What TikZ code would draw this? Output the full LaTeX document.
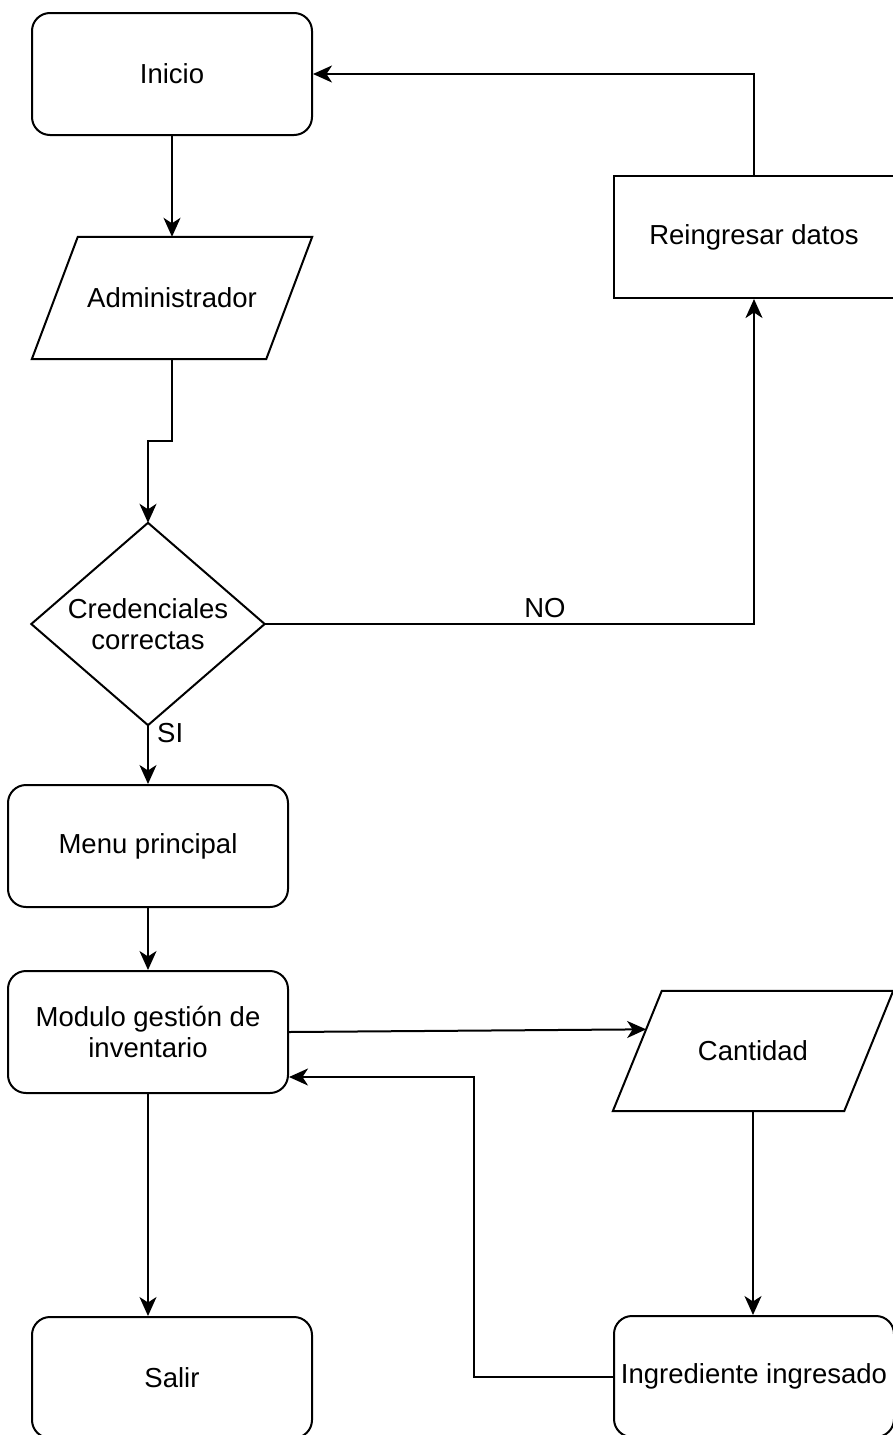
\documentclass[tikz,border=0pt]{standalone}
\usepackage{fontspec}
\setmainfont{Liberation Sans}
\usetikzlibrary{arrows.meta,calc}

\begin{document}
\begin{tikzpicture}[x=1pt,y=-1pt,
  every node/.style={font=\fontsize{27.5}{31}\selectfont, align=center, inner sep=0pt},
  frame/.style={minimum width=280pt, minimum height=122pt},
  roundbox/.style={frame, draw, line width=2pt, rounded corners=18pt},
  plainbox/.style={frame, draw, line width=2pt},
  outline/.style={draw, line width=2pt, line join=miter},
  link/.style={line width=2pt},
  arr/.style={link, -{Stealth[length=19pt,width=17pt,inset=5.5pt]}}
]
\fill[white] (0,0) rectangle (893,1435);
\useasboundingbox (0,0) rectangle (893,1435);

% process boxes
\node[roundbox] (inicio) at (172,74) {Inicio};
\node[plainbox] (reing) at (754,237) {Reingresar datos};
\node[roundbox] (menu) at (148,846) {Menu principal};
\node[roundbox] (mod) at (148,1032) {Modulo gesti\'on de\\inventario};
\node[roundbox, minimum height=121pt] (ingr) at (754,1376.5) {Ingrediente ingresado};
\node[roundbox, minimum height=121pt] (salir) at (172,1377.5) {Salir};

% input/output parallelograms
\node[frame] (admin) at (172,298) {Administrador};
\draw[outline] (admin.south west) -- ($(admin.south east)+(-46,0)$)
  -- (admin.north east) -- ($(admin.north west)+(46,0)$) -- cycle;

\node[frame, minimum height=120pt] (cant) at (753,1051) {Cantidad};
\draw[outline] ($(cant.north west)+(49,0)$) -- coordinate[pos=0.32] (cantin) (cant.south west)
  -- ($(cant.south east)+(-49,0)$) -- (cant.north east) -- cycle;

% decision
\node[minimum width=233pt, minimum height=202pt] (dec) at (148,624) {Credenciales\\correctas};
\draw[outline] (dec.north) -- (dec.east) -- (dec.south) -- (dec.west) -- cycle;

% branch labels
\node[anchor=west] (si) at (157,733) {SI};
\node (no) at (545,608) {NO};

% connectors
\draw[arr] (inicio.south) -- (admin.north);
\draw[arr] (admin.south) -- ++(0,82) -| (dec.north);
\draw[arr] (dec.south) -- (menu.north);
\draw[arr] (dec.east) -| (reing.south);
\draw[arr] (reing.north) |- (inicio.east);
\draw[arr] (menu.south) -- (mod.north);
\draw[arr] (mod.east) -- (cantin);
\draw[arr] (cant.south) -- (cant.south |- ingr.north);
\coordinate (modin) at ($(mod.east)+(0,45)$);
\draw[arr] (ingr.west) -- ++(-139,0) |- (modin);
\draw[arr] (mod.south) -- (mod.south |- salir.north);
\end{tikzpicture}
\end{document}
